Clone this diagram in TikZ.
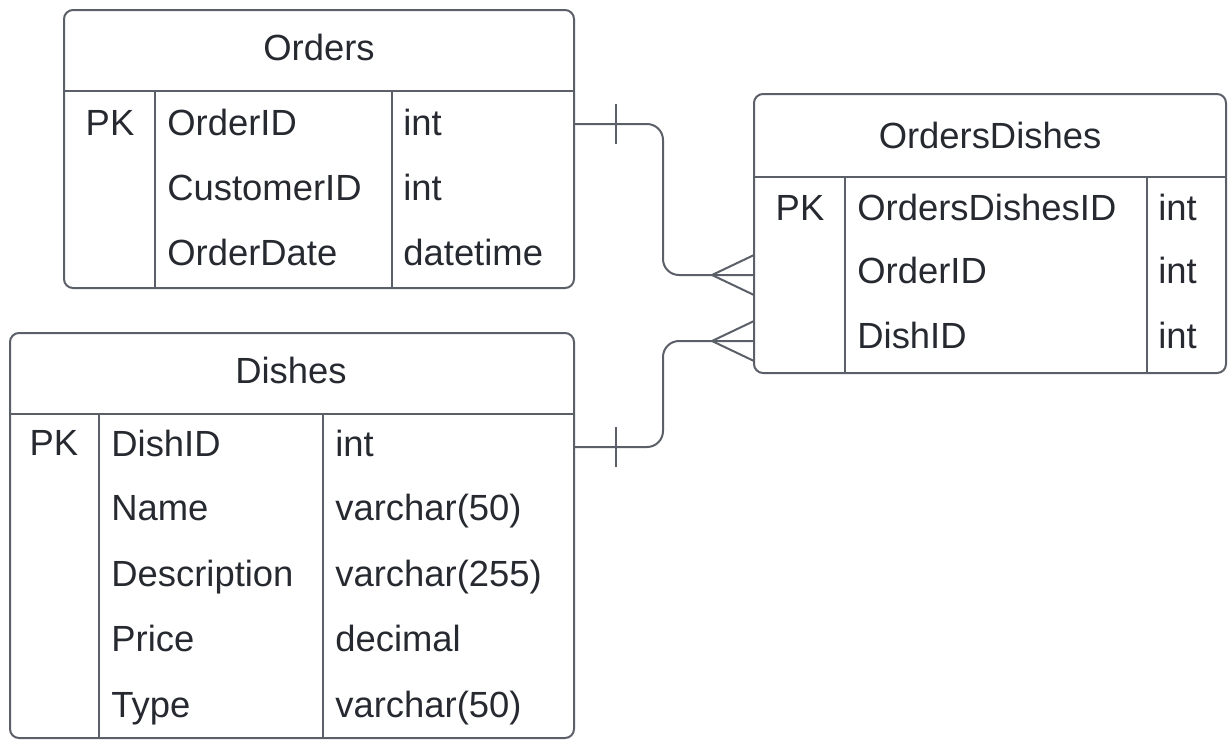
\documentclass[tikz,border=0pt]{standalone}
\usepackage{fontspec}
\setmainfont{Liberation Sans}
\usepackage{tikz}
\definecolor{erline}{HTML}{5B6068}
\definecolor{ertext}{HTML}{262A30}
\tikzset{
    erbox/.style={draw=erline, line width=1pt, rounded corners=4.5pt},
    erline/.style={draw=erline, line width=1pt},
    ertitle/.style={text=ertext, inner sep=0pt, text height=13pt, text depth=0pt,
        font=\fontsize{18.2}{22}\selectfont},
    erfield/.style={text=ertext, inner sep=0pt, anchor=west, text height=13pt, text depth=0pt,
        font=\fontsize{18.2}{22}\selectfont},
}

\begin{document}
\begin{tikzpicture}[x=0.5pt,y=-0.5pt]
    \useasboundingbox (0,0) rectangle (1231,740);

    % Orders
    \coordinate (O1) at (64, 10);
    \coordinate (O2) at (574, 288);
    \coordinate (OH) at (64, 91);
    \coordinate (OC1) at (155, 91);
    \coordinate (OC2) at (392, 91);

    % OrdersDishes
    \coordinate (D1) at (754, 94);
    \coordinate (D2) at (1226, 373);
    \coordinate (DH) at (754, 177);
    \coordinate (DC1) at (845, 177);
    \coordinate (DC2) at (1147, 177);

    % Dishes
    \coordinate (S1) at (10, 333);
    \coordinate (S2) at (574, 738);
    \coordinate (SH) at (10, 414);
    \coordinate (SC1) at (99, 414);
    \coordinate (SC2) at (323, 414);

    \draw[erbox] (O1) rectangle (O2);
    \draw[erline] (OH) -- (OH -| O2);
    \draw[erline] (OC1) -- (OC1 |- O2);
    \draw[erline] (OC2) -- (OC2 |- O2);

    \draw[erbox] (D1) rectangle (D2);
    \draw[erline] (DH) -- (DH -| D2);
    \draw[erline] (DC1) -- (DC1 |- D2);
    \draw[erline] (DC2) -- (DC2 |- D2);

    \draw[erbox] (S1) rectangle (S2);
    \draw[erline] (SH) -- (SH -| S2);
    \draw[erline] (SC1) -- (SC1 |- S2);
    \draw[erline] (SC2) -- (SC2 |- S2);

%relations
    \coordinate (R1) at (574, 124);
    \coordinate (R1b) at (663, 124);
    \coordinate (R1e) at (754, 275);
    \coordinate (R1t) at (616, 124);
    \coordinate (R1f) at (712, 275);

    \coordinate (R2) at (574, 447);
    \coordinate (R2b) at (663, 447);
    \coordinate (R2e) at (754, 341);
    \coordinate (R2t) at (616, 447);
    \coordinate (R2f) at (712, 341);

    \draw[erline, rounded corners=8pt] (R1) -- (R1b) |- (R1e);
    \draw[erline] ([yshift=-10pt]R1t) -- ([yshift=10pt]R1t);
    \draw[erline] ([yshift=-10pt]R1e) -- (R1f) -- ([yshift=10pt]R1e);

    \draw[erline, rounded corners=8pt] (R2) -- (R2b) |- (R2e);
    \draw[erline] ([yshift=-10pt]R2t) -- ([yshift=10pt]R2t);
    \draw[erline] ([yshift=-10pt]R2e) -- (R2f) -- ([yshift=10pt]R2e);

%labels
    \node[ertitle] (orders) at (319, 47) {Orders};
    \node[ertitle] (opk) at (110, 122) {PK};
    \node[erfield] (oid) at (167, 122) {OrderID};
    \node[erfield] (ocust) at (167, 187) {CustomerID};
    \node[erfield] (odate) at (167, 252) {OrderDate};
    \node[erfield] (oidt) at (403, 122) {int};
    \node[erfield] (ocustt) at (403, 187) {int};
    \node[erfield] (odatet) at (403, 252) {datetime};

    \node[ertitle] (ordersdishes) at (990, 135) {OrdersDishes};
    \node[ertitle] (dpk) at (800, 207) {PK};
    \node[erfield] (did) at (857, 207) {OrdersDishesID};
    \node[erfield] (dord) at (857, 270) {OrderID};
    \node[erfield] (ddish) at (857, 335) {DishID};
    \node[erfield] (didt) at (1158, 207) {int};
    \node[erfield] (dordt) at (1158, 270) {int};
    \node[erfield] (ddisht) at (1158, 335) {int};

    \node[ertitle] (dishes) at (291, 370) {Dishes};
    \node[ertitle] (spk) at (54, 442) {PK};
    \node[erfield] (sid) at (111, 443) {DishID};
    \node[erfield] (sname) at (111, 507) {Name};
    \node[erfield] (sdesc) at (111, 573) {Description};
    \node[erfield] (sprice) at (111, 638) {Price};
    \node[erfield] (stype) at (111, 704) {Type};
    \node[erfield] (sidt) at (335, 443) {int};
    \node[erfield] (snamet) at (335, 507) {varchar(50)};
    \node[erfield] (sdesct) at (335, 573) {varchar(255)};
    \node[erfield] (spricet) at (335, 638) {decimal};
    \node[erfield] (stypet) at (335, 704) {varchar(50)};

\end{tikzpicture}
\end{document}
